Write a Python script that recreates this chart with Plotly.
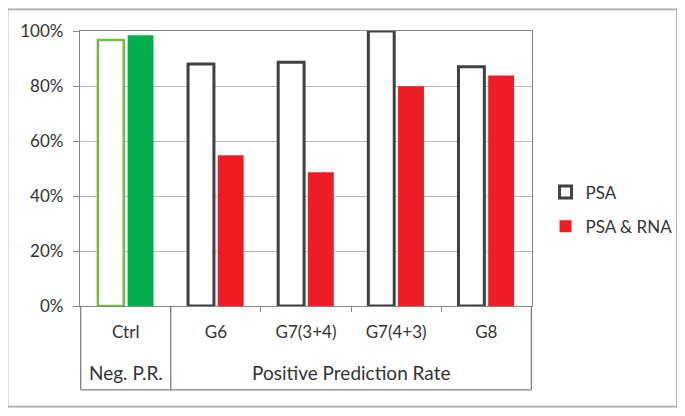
import plotly.graph_objects as go

categories = ["Ctrl", "G6", "G7(3+4)", "G7(4+3)", "G8"]
group_labels = ["Neg. P.R.", "Positive Prediction Rate"]
psa = [96.7, 88.0, 88.6, 100.0, 87.0]
psa_rna = [98.5, 54.8, 48.6, 79.9, 83.8]
y_ticks = [0, 20, 40, 60, 80, 100]
y_tick_labels = ["0%", "20%", "40%", "60%", "80%", "100%"]

FONT = "Lato"
TXT = "#333333"
AX = "#868686"

fig = go.Figure()
# Control group (negative prediction rate), green
fig.add_trace(go.Bar(x=categories[:1], y=psa[:1], offsetgroup="psa", showlegend=False,
                     marker=dict(color="white", line=dict(color="#76B846", width=2.5)), hoverinfo="skip"))
fig.add_trace(go.Bar(x=categories[:1], y=psa_rna[:1], offsetgroup="rna", showlegend=False,
                     marker=dict(color="#00AE4D", line=dict(color="#00AE4D", width=0)), hoverinfo="skip"))
# Positive prediction rate groups
fig.add_trace(go.Bar(x=categories[1:], y=psa[1:], offsetgroup="psa", name="PSA", legendgroup="a",
                     marker=dict(color="white", line=dict(color="#404040", width=3))))
fig.add_trace(go.Bar(x=categories[1:], y=psa_rna[1:], offsetgroup="rna", name="PSA & RNA", legendgroup="b",
                     marker=dict(color="#EE1C25", line=dict(color="#EE1C25", width=0))))

box_y = -0.3047
line = dict(color="#808080", width=1.3)
shapes = [
    dict(type="line", xref="x", yref="paper", x0=-0.5, x1=-0.5, y0=0, y1=box_y, line=line),
    dict(type="line", xref="x", yref="paper", x0=0.5, x1=0.5, y0=0, y1=box_y, line=line),
    dict(type="line", xref="x", yref="paper", x0=4.5, x1=4.5, y0=0, y1=box_y, line=line),
    dict(type="line", xref="x", yref="paper", x0=-0.5, x1=4.5, y0=box_y, y1=box_y, line=line),
    dict(type="rect", xref="paper", yref="paper", x0=-0.1604, x1=1.3209, y0=-0.3656, y1=1.0789,
         line=dict(color="#A8A8A8", width=1.8)),
]

annotations = [
    dict(x=0, y=-0.240, xref="x", yref="paper", text=group_labels[0], showarrow=False,
         font=dict(family=FONT, size=19, color=TXT), xanchor="center", yanchor="middle"),
    dict(x=2.5, y=-0.240, xref="x", yref="paper", text=group_labels[1], showarrow=False,
         font=dict(family=FONT, size=19, color=TXT), xanchor="center", yanchor="middle"),
]

fig.update_layout(
    width=685, height=416,
    margin=dict(l=69, r=161, t=19, b=118),
    paper_bgcolor="white", plot_bgcolor="white",
    barmode="group", bargap=0.34, bargroupgap=0.13,
    font=dict(family=FONT, size=17, color=TXT),
    shapes=shapes, annotations=annotations,
    legend=dict(x=1.03, y=0.478, xanchor="left", yanchor="top", traceorder="grouped",
                tracegroupgap=9, font=dict(family=FONT, size=17, color=TXT), bgcolor="rgba(0,0,0,0)"),
    xaxis=dict(type="category", categoryorder="array", categoryarray=categories,
               showline=True, linecolor=AX, linewidth=1.3, mirror=True,
               ticks="outside", tickson="boundaries", ticklen=5, tickcolor=AX,
               ticklabelstandoff=10, showgrid=False, tickfont=dict(family=FONT, size=17, color=TXT)),
    yaxis=dict(range=[0, 100], tickvals=y_ticks, ticktext=y_tick_labels,
               showline=True, linecolor=AX, linewidth=1.3, mirror=True,
               ticks="outside", ticklen=6, tickcolor=AX, ticklabelstandoff=6,
               showgrid=True, gridcolor="#B8B8B8", gridwidth=1, zeroline=False,
               tickfont=dict(family=FONT, size=17, color=TXT)),
)

fig.write_html("out.html")
